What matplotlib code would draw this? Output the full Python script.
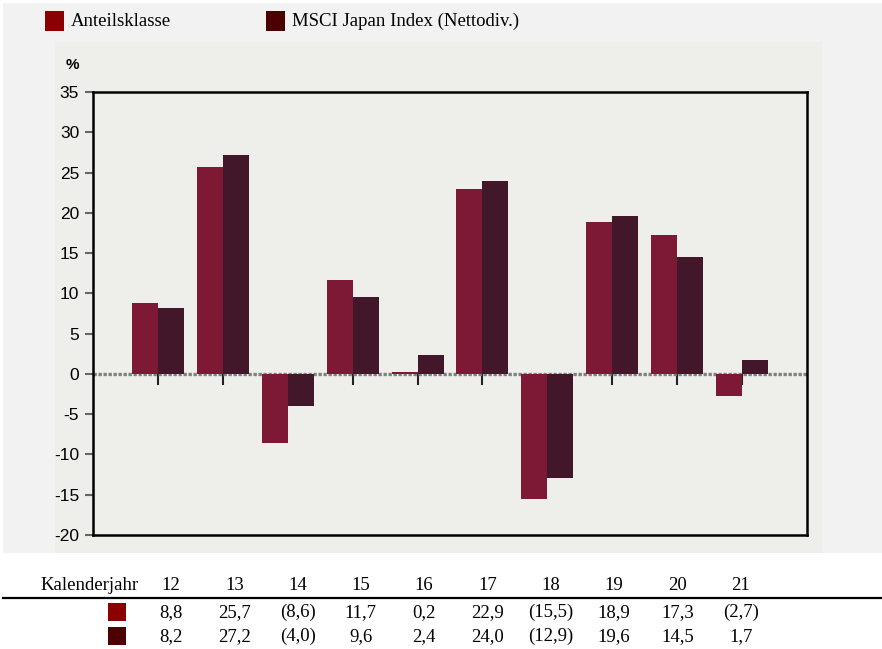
import numpy as np
import matplotlib.pyplot as plt
from matplotlib.patches import Rectangle

# Jahresrenditen in %
YEARS   = ['12', '13', '14', '15', '16', '17', '18', '19', '20', '21']
ANTEIL  = [8.8, 25.7, -8.6, 11.7, 0.2, 22.9, -15.5, 18.9, 17.3, -2.7]
MSCI    = [8.2, 27.2, -4.0, 9.6, 2.4, 24.0, -12.9, 19.6, 14.5, 1.7]
LABELS  = ['Anteilsklasse', 'MSCI Japan Index (Nettodiv.)']

BAR_COLORS = ['#7d1934', '#43172a']
KEY_COLORS = ['#8b0000', '#4d0000']

SERIF = ['Liberation Serif', 'DejaVu Serif']
SANS  = ['Liberation Sans Narrow', 'Liberation Sans', 'DejaVu Sans']
FS = 13.5

W, H = 882, 649

plt.rcParams['axes.unicode_minus'] = False


def fx(px):
    return px / W


def fy(py):
    return 1 - py / H


def fmt(v):
    s = f'{abs(v):.1f}'.replace('.', ',')
    return f'({s})' if v < 0 else s


def box(x0, y_top, w, h, color, z=1):
    fig.add_artist(Rectangle((fx(x0), fy(y_top + h)), fx(w), h / H, transform=fig.transFigure,
                             facecolor=color, edgecolor='none', zorder=z))


fig = plt.figure(figsize=(W / 100, H / 100), dpi=100, facecolor='white')

# Hintergrundflächen
box(3, 3, 879, 550, '#f2f2f2', z=-10)
box(55, 42, 767, 511, '#eeeeea', z=-9)

ax = fig.add_axes([fx(93), fy(535), fx(714), 443 / H])
ax.set_facecolor('#eeeeea')

x = np.arange(len(YEARS))
w = 0.4
ax.bar(x - w / 2, ANTEIL, width=w, color=BAR_COLORS[0], zorder=2)
ax.bar(x + w / 2, MSCI, width=w, color=BAR_COLORS[1], zorder=2)
ax.axhline(0, color='#808080', lw=2.4, linestyle=(0, (1, 0.5)), zorder=1)

ax.set_xlim(-1, len(YEARS))
ax.set_ylim(-20, 35)
ax.set_yticks(np.arange(-20, 36, 5))
ax.set_xticks([])
ax.tick_params(axis='y', direction='out', length=6, width=1.5, color='#666666',
               pad=4, labelsize=12.5)
for lab in ax.get_yticklabels():
    lab.set_family(SANS)
for sp in ax.spines.values():
    sp.set_color('black')
    sp.set_linewidth(1.8)

# Teilstriche an der Nulllinie
sec = ax.secondary_xaxis(20 / 55)
sec.set_xticks(x)
sec.tick_params(direction='out', length=8, width=1.5, color='#222222', labelbottom=False)
sec.spines['bottom'].set_visible(False)

fig.text(fx(66), fy(65), '%', family=SANS, fontsize=11, fontweight='bold', va='center')

# Legende
for lbl, c, x0 in zip(LABELS, KEY_COLORS, [45, 266]):
    box(x0, 11, 19, 20, c)
    fig.text(fx(x0 + 26), fy(26), lbl, family=SERIF, fontsize=FS, va='baseline')

# Tabelle
col0, step = 171, 63.3
fig.text(fx(40), fy(590), 'Kalenderjahr', family=SERIF, fontsize=FS, va='baseline')
for i, yr in enumerate(YEARS):
    fig.text(fx(col0 + i * step), fy(590), yr, family=SERIF, fontsize=FS,
             ha='center', va='baseline')
fig.add_artist(plt.Line2D([fx(3), fx(882)], [fy(598), fy(598)], color='black', lw=1.6,
                          transform=fig.transFigure))
for vals, c, yc in zip([ANTEIL, MSCI], KEY_COLORS, [612, 636]):
    box(108, yc - 9, 18, 18, c)
    for i, v in enumerate(vals):
        fig.text(fx(col0 + i * step), fy(yc + 5), fmt(v), family=SERIF, fontsize=FS,
                 ha='center', va='baseline')

fig.savefig('out.png', dpi=100)
